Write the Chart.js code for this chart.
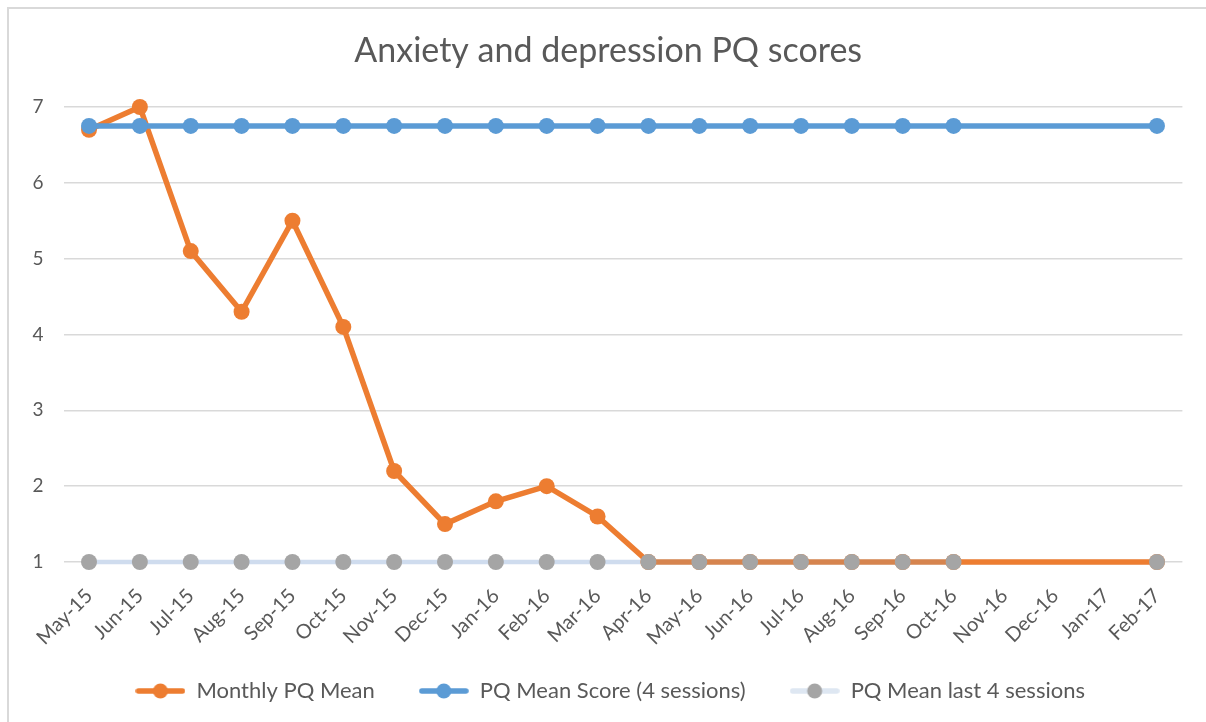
<!DOCTYPE html>
<html>
<head>
<meta charset="utf-8">
<script src="https://cdn.jsdelivr.net/npm/chart.js@4.4.1/dist/chart.umd.min.js"></script>
<style>
html,body{margin:0;padding:0;background:#fff;}
#wrap{width:1206px;height:722px;position:relative;}
</style>
</head>
<body>
<div id="wrap"><canvas id="c" width="1206" height="722"></canvas></div>
<script>
const categories = ["May-15","Jun-15","Jul-15","Aug-15","Sep-15","Oct-15","Nov-15","Dec-15","Jan-16","Feb-16","Mar-16","Apr-16","May-16","Jun-16","Jul-16","Aug-16","Sep-16","Oct-16","Nov-16","Dec-16","Jan-17","Feb-17"];
const monthlyPQMean = [6.7,7.0,5.1,4.3,5.5,4.1,2.2,1.5,1.8,2.0,1.6,1.0,1.0,1.0,1.0,1.0,1.0,1.0,null,null,null,1.0];
const pqMeanScore4 = [6.75,6.75,6.75,6.75,6.75,6.75,6.75,6.75,6.75,6.75,6.75,6.75,6.75,6.75,6.75,6.75,6.75,6.75,null,null,null,6.75];
const pqMeanLast4 = [1,1,1,1,1,1,1,1,1,1,1,1,1,1,1,1,1,1,null,null,null,1];
const seriesLabels = ["Monthly PQ Mean","PQ Mean Score (4 sessions)","PQ Mean last 4 sessions"];
const yTicks = [1,2,3,4,5,6,7];

const ORANGE = '#ED7D31', ORANGE_FLAT = '#D6844E', BLUE = '#5B9BD5', GRAY = '#A5A5A5', LIGHT = '#CFDCEE';
const TXT = '#595959';
const FONT = 'Lato, "Open Sans", sans-serif';

function legendIcon(lineColor, dotColor){
  const cv = document.createElement('canvas');
  cv.width = 50; cv.height = 18;
  const g = cv.getContext('2d');
  g.strokeStyle = lineColor; g.lineWidth = 5.5; g.lineCap = 'round';
  g.beginPath(); g.moveTo(3,9); g.lineTo(47,9); g.stroke();
  g.fillStyle = dotColor;
  g.beginPath(); g.arc(25,9,7.5,0,Math.PI*2); g.fill();
  return cv;
}
const icons = [legendIcon(ORANGE,ORANGE), legendIcon(BLUE,BLUE), legendIcon('#DEE7F2',GRAY)];

const borderPlugin = {
  id:'border',
  beforeDraw(chart){
    const ctx = chart.ctx;
    ctx.save();
    ctx.fillStyle='#fff'; ctx.fillRect(0,0,chart.width,chart.height);
    ctx.strokeStyle='#D9D9D9'; ctx.lineWidth=2;
    ctx.strokeRect(8,8,chart.width+20,chart.height+20);
    ctx.restore();
  },
  afterLayout(chart){
    if (chart.legend){ chart.legend.left += 19; chart.legend.right += 19; chart.legend.top -= 10; chart.legend.bottom -= 10; }
    if (chart.titleBlock){ chart.titleBlock.left += 17; chart.titleBlock.right += 17; }
  }
};

new Chart(document.getElementById('c'), {
  type:'line',
  data:{
    labels: categories,
    datasets:[
      {label:seriesLabels[0], data:monthlyPQMean, order:2, spanGaps:true, clip:false,
       borderColor:ORANGE, backgroundColor:ORANGE, borderWidth:5.5,
       pointRadius:8, pointBackgroundColor:ORANGE, pointBorderColor:ORANGE, pointBorderWidth:0, pointHoverRadius:8,
       segment:{borderColor: c => (c.p0.parsed.y===1 && c.p1.parsed.y===1) ? ORANGE_FLAT : ORANGE}},
      {label:seriesLabels[1], data:pqMeanScore4, order:1, spanGaps:true, clip:false,
       borderColor:BLUE, backgroundColor:BLUE, borderWidth:5.5,
       pointRadius:8, pointBackgroundColor:BLUE, pointBorderColor:BLUE, pointBorderWidth:0, pointHoverRadius:8},
      {label:seriesLabels[2], data:pqMeanLast4, order:0, spanGaps:true, showLine:false, clip:false,
       borderColor:GRAY, backgroundColor:GRAY,
       pointRadius:8, pointBackgroundColor:GRAY, pointBorderColor:GRAY, pointBorderWidth:0, pointHoverRadius:8},
      {label:'_line', data:pqMeanLast4, order:3, spanGaps:true, clip:false,
       borderColor:LIGHT, borderWidth:4.5, pointRadius:0}
    ]
  },
  options:{
    responsive:false, animation:false,
    layout:{padding:{left:0,right:23.6,top:10,bottom:0}},
    plugins:{
      title:{display:true, text:'Anxiety and depression PQ scores', color:TXT,
        font:{family:FONT, size:34, weight:'normal', lineHeight:1.2}, padding:{top:21,bottom:35.2}},
      legend:{position:'bottom',
        labels:{usePointStyle:true, pointStyleWidth:50, padding:44, color:TXT,
          font:{family:FONT, size:22},
          generateLabels:(chart)=>[0,1,2].map(i=>({text:seriesLabels[i], pointStyle:icons[i],
            fillStyle:'#fff', strokeStyle:'#fff', lineWidth:0, hidden:false, datasetIndex:i, fontColor:TXT}))}},
      tooltip:{enabled:false}
    },
    scales:{
      x:{offset:true,
        afterFit(s){ s.height = 84; },
        grid:{display:false, drawTicks:false},
        border:{display:false},
        ticks:{color:TXT, font:{family:FONT, size:20}, maxRotation:45, minRotation:45, autoSkip:false, padding:22}},
      y:{min:1, max:7,
        afterFit(s){ s.width = 63.6; },
        afterBuildTicks(s){ s.ticks = yTicks.map(v=>({value:v})); },
        grid:{color:'#D9D9D9', lineWidth:1.5, drawTicks:false},
        border:{display:false},
        ticks:{color:TXT, font:{family:FONT, size:19}, padding:20}}
    }
  },
  plugins:[borderPlugin]
});
</script>
</body>
</html>
